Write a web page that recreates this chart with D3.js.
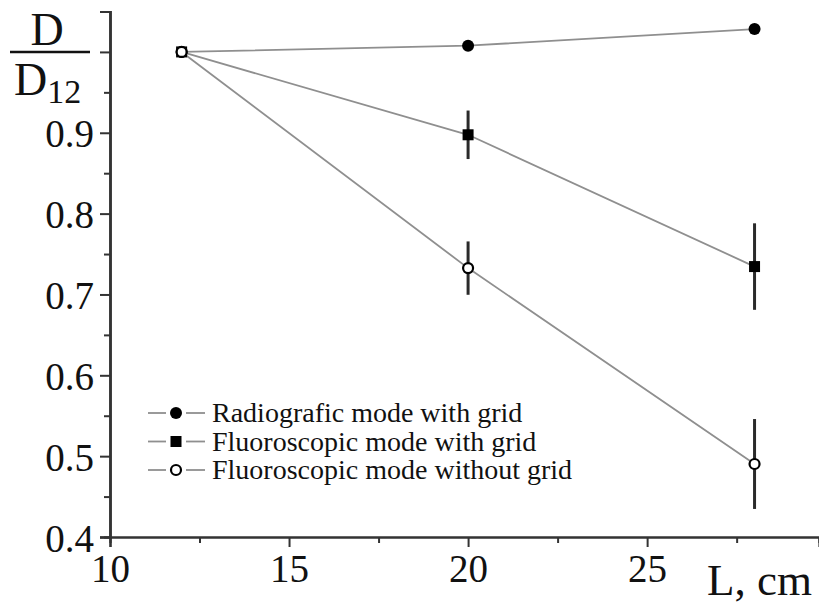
<!DOCTYPE html>
<html>
<head>
<meta charset="utf-8">
<script src="https://cdn.jsdelivr.net/npm/d3@7"></script>
<style>
  html, body { margin: 0; padding: 0; background: #fff; }
  svg { display: block; font-family: 'Liberation Serif', 'Times New Roman', serif; }
</style>
</head>
<body>
<svg id="chart" width="819" height="607"></svg>
<script>
// * data
const distances = [12, 20, 28];
const radioGrid = [1.0, 1.0077, 1.0283];
const fluoroGrid = [1.0, 0.8975, 0.7345];
const fluoroGridErr = [0, 0.030, 0.0535];
const fluoroNoGrid = [1.0, 0.7326, 0.4903];
const fluoroNoGridErr = [0, 0.033, 0.0556];
const seriesNames = ['Radiografic mode with grid', 'Fluoroscopic mode with grid', 'Fluoroscopic mode without grid'];
const xTicks = [10, 15, 20, 25];
const xMinorTicks = [12.5, 17.5, 22.5, 27.5];
const yTicks = [0.4, 0.5, 0.6, 0.7, 0.8, 0.9, 1.0];
const yMinorTicks = [0.45, 0.55, 0.65, 0.75, 0.85, 0.95, 1.05];

const series = [
  { name: seriesNames[0], values: radioGrid, errors: null, marker: 'dot' },
  { name: seriesNames[1], values: fluoroGrid, errors: fluoroGridErr, marker: 'square' },
  { name: seriesNames[2], values: fluoroNoGrid, errors: fluoroNoGridErr, marker: 'ring' }
];

const axisColor = '#333';
const lineColor = '#8f8f8f';

const svg = d3.select('#chart');

const x = d3.scaleLinear().domain([10, 29.8]).range([110, 819]);
const y = d3.scaleLinear().domain([0.4, 1.05]).range([537, 11.5]);

// axes
const xAxis = svg.append('g').attr('transform', `translate(0,${y(0.4)})`)
  .call(d3.axisBottom(x).tickValues(xTicks).tickSize(10).tickPadding(6).tickFormat(d3.format('d')));
svg.append('g').attr('transform', `translate(0,${y(0.4)})`)
  .call(d3.axisBottom(x).tickValues(xMinorTicks).tickSize(6).tickFormat(''));
const yAxis = svg.append('g').attr('transform', `translate(${x(10)},0)`)
  .call(d3.axisLeft(y).tickValues(yTicks.filter((d) => d < 1)).tickSize(10).tickPadding(6).tickFormat(d3.format('.1f')));
svg.append('g').attr('transform', `translate(${x(10)},0)`)
  .call(d3.axisLeft(y).tickValues([1.0]).tickSize(10).tickFormat(''));
svg.append('g').attr('transform', `translate(${x(10)},0)`)
  .call(d3.axisLeft(y).tickValues(yMinorTicks).tickSize(6).tickFormat(''));

svg.selectAll('.domain').attr('stroke', axisColor).attr('stroke-width', 2.2);
svg.selectAll('.tick line').attr('stroke', axisColor).attr('stroke-width', 2);
svg.selectAll('.tick text').attr('fill', '#111').style('font-size', '39px').style('font-family', "'Liberation Serif', serif");
xAxis.selectAll('.tick text').attr('dy', '0.75em');
yAxis.selectAll('.tick text').attr('dy', '0.36em');

// axis titles
svg.append('text').attr('x', 707).attr('y', 595).style('font-size', '45px').attr('fill', '#111').text('L, cm');

const yLab = svg.append('g').attr('fill', '#111');
yLab.append('text').attr('x', 47).attr('y', 45).attr('text-anchor', 'middle').style('font-size', '46px').text('D');
yLab.append('line').attr('x1', 10).attr('x2', 90).attr('y1', 52).attr('y2', 52).attr('stroke', '#111').attr('stroke-width', 2.5);
const d12 = yLab.append('text').attr('x', 14).attr('y', 95).style('font-size', '46px');
d12.append('tspan').text('D');
d12.append('tspan').attr('dy', 8).style('font-size', '34px').text('12');

// lines
const line = d3.line().x((d) => x(d[0])).y((d) => y(d[1]));
series.forEach((s) => {
  svg.append('path')
    .datum(distances.map((d, i) => [d, s.values[i]]))
    .attr('d', line)
    .attr('fill', 'none')
    .attr('stroke', lineColor)
    .attr('stroke-width', 1.8);
});

// error bars
series.filter((s) => s.errors).forEach((s) => {
  svg.append('g').selectAll('line')
    .data(distances.map((d, i) => ({ x: d, v: s.values[i], e: s.errors[i] })).filter((d) => d.e > 0))
    .enter()
    .append('line')
    .attr('x1', (d) => x(d.x)).attr('x2', (d) => x(d.x))
    .attr('y1', (d) => y(d.v + d.e)).attr('y2', (d) => y(d.v - d.e))
    .attr('stroke', '#2a2a2a')
    .attr('stroke-width', 3);
});

function drawMarker(g, type, cx, cy) {
  if (type === 'dot') {
    g.append('circle').attr('cx', cx).attr('cy', cy).attr('r', 6).attr('fill', '#000');
  } else if (type === 'square') {
    g.append('rect').attr('x', cx - 5.5).attr('y', cy - 5.5).attr('width', 11).attr('height', 11).attr('fill', '#000');
  } else {
    g.append('circle').attr('cx', cx).attr('cy', cy).attr('r', 5).attr('fill', '#fff').attr('stroke', '#000').attr('stroke-width', 2.2);
  }
}

// markers
series.forEach((s) => {
  const g = svg.append('g');
  distances.forEach((d, i) => drawMarker(g, s.marker, x(d), y(s.values[i])));
});

// legend
const legend = svg.append('g').attr('transform', 'translate(148,413)');
series.forEach((s, i) => {
  const row = legend.append('g').attr('transform', `translate(0,${i * 28.5})`);
  row.append('line').attr('x1', 0).attr('x2', 18).attr('y1', 0).attr('y2', 0).attr('stroke', lineColor).attr('stroke-width', 1.8);
  row.append('line').attr('x1', 38).attr('x2', 57).attr('y1', 0).attr('y2', 0).attr('stroke', lineColor).attr('stroke-width', 1.8);
  drawMarker(row, s.marker, 28, 0);
  row.append('text').attr('x', 64).attr('y', 0).attr('dy', '0.33em')
    .style('font-size', '28px').attr('fill', '#111').text(s.name);
});
</script>
</body>
</html>
